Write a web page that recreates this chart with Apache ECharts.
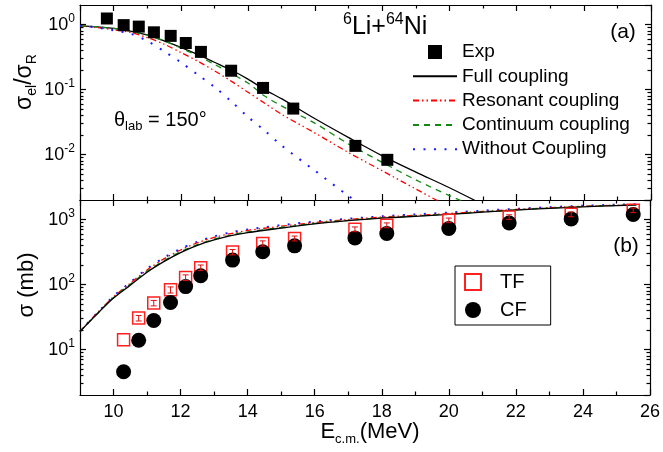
<!DOCTYPE html>
<html lang="en">
<head>
  <meta charset="UTF-8">
  <title>6Li+64Ni</title>
  <script src="https://cdn.jsdelivr.net/npm/echarts@6/dist/echarts.min.js"></script>
  <style>html, body { margin: 0; padding: 0; background: #fff; }</style>
</head>
<body>
  <div id="chart" style="width:663px;height:452px;"></div>
  <script>
    // (a) elastic ratio, experiment
    var expE = [9.8, 10.3, 10.75, 11.2, 11.7, 12.15, 12.6, 13.5, 14.45, 15.35, 17.2, 18.15];
    var expRatio = [1.24, 0.98, 0.93, 0.76, 0.67, 0.52, 0.38, 0.195, 0.106, 0.051, 0.0136, 0.0083];

    // (a) calculations
    var theoE = [9, 9.5, 10, 10.5, 11, 11.5, 12, 12.5, 13, 13.5, 14, 14.5, 15, 16, 17, 18, 19, 20, 21];
    var fullRatio = [0.955, 0.923, 0.871, 0.794, 0.692, 0.562, 0.447, 0.347, 0.263, 0.2, 0.145, 0.1, 0.0724, 0.0355, 0.0182, 0.00955, 0.00537, 0.00309, 0.0017];
    var resRatio = [0.955, 0.902, 0.832, 0.759, 0.631, 0.501, 0.372, 0.275, 0.195, 0.135, 0.0912, 0.0617, 0.0417, 0.0214, 0.0107, 0.00562, 0.00295, 0.00155, null];
    var contRatio = [0.955, 0.923, 0.871, 0.79, 0.69, 0.56, 0.437, 0.331, 0.245, 0.178, 0.126, 0.0794, 0.0562, 0.0302, 0.0145, 0.00759, 0.00407, 0.00234, 0.0014];
    var noneRatio = [0.955, 0.902, 0.813, 0.724, 0.562, 0.389, 0.263, 0.17, 0.11, 0.0661, 0.038, 0.0234, 0.0138, 0.00562, 0.0023, 0.001, null, null, null];

    // (b) fusion, experiment
    var fusE = [10.3, 10.75, 11.2, 11.7, 12.15, 12.6, 13.55, 14.45, 15.4, 17.2, 18.15, 20.0, 21.8, 23.65, 25.5];
    var tfSig = [14.2, 30.5, 52, 83, 128, 182, 316, 430, 513, 710, 818, 975, 1096, 1206, 1390];
    var tfErr = [0, 3, 5, 9, 13, 18, 30, 40, 45, 60, 70, 80, 90, 100, 110];
    var cfSig = [4.55, 13.9, 28, 53, 93, 137, 238, 319, 394, 522, 610, 728, 887, 1024, 1194];

    // (b) calculations
    var sigE = [9, 9.5, 10, 10.5, 11, 11.5, 12, 12.5, 13, 13.5, 14, 15, 16, 17, 18, 19, 20, 21, 22, 23, 24, 25, 25.6];
    var fullSig = [19, 35, 62, 98, 155, 225, 310, 400, 485, 565, 630, 740, 860, 960, 1050, 1120, 1200, 1300, 1400, 1490, 1570, 1640, 1680];
    var resSig = [19, 36, 65, 105, 168, 248, 340, 440, 530, 610, 680, 790, 900, 1000, 1090, 1160, 1240, 1330, 1430, 1520, 1600, 1660, 1700];
    var contSig = [19, 35, 63, 101, 160, 232, 320, 412, 498, 578, 645, 755, 875, 975, 1065, 1135, 1215, 1315, 1415, 1505, 1585, 1650, 1690];
    var noneSig = [19, 36, 66, 108, 175, 258, 355, 455, 550, 635, 705, 820, 930, 1030, 1120, 1200, 1280, 1370, 1460, 1550, 1630, 1690, 1720];

    // minor tick positions
    var minorE = [11, 13, 15, 17, 19, 21, 23, 25];
    var minorRatio = [0.003, 0.004, 0.005, 0.006, 0.007, 0.008, 0.009, 0.02, 0.03, 0.04, 0.05, 0.06, 0.07, 0.08, 0.09,
      0.2, 0.3, 0.4, 0.5, 0.6, 0.7, 0.8, 0.9];
    var minorSig = [3, 4, 5, 6, 7, 8, 9, 20, 30, 40, 50, 60, 70, 80, 90, 200, 300, 400, 500, 600, 700, 800, 900];

    var font = 'Liberation Sans, Arial, sans-serif';

    function pair(xs, ys) {
      return xs.map(function (x, i) { return [x, ys[i]]; });
    }

    function pow10(v) {
      return '10{sup|' + Math.round(Math.log10(v)) + '}';
    }

    function xAx(grid, pos, labels) {
      return {
        type: 'value', gridIndex: grid, position: pos, min: 9, max: 26, splitNumber: 8,
        axisLine: { show: true, onZero: false, lineStyle: { color: '#000', width: 1.2 } },
        axisTick: { show: true, inside: true, length: 6, lineStyle: { color: '#000', width: 1.2 } },
        axisLabel: { show: labels, showMinLabel: false, color: '#000', fontSize: 18, fontFamily: font, margin: 8 },
        splitLine: { show: false }
      };
    }

    function xMinor(grid, pos) {
      return {
        type: 'value', gridIndex: grid, position: pos, min: 9, max: 26,
        axisLine: { show: false, onZero: false },
        axisTick: { show: true, inside: true, length: 3.5, customValues: minorE, lineStyle: { color: '#000', width: 1.2 } },
        axisLabel: { show: false }, splitLine: { show: false }
      };
    }

    function yAx(grid, pos, min, max, labels) {
      return {
        type: 'log', logBase: 10, gridIndex: grid, position: pos, min: min, max: max,
        axisLine: { show: true, onZero: false, lineStyle: { color: '#000', width: 1.2 } },
        axisTick: { show: true, inside: true, length: 6, lineStyle: { color: '#000', width: 1.2 } },
        axisLabel: {
          show: labels, showMinLabel: false, showMaxLabel: false, formatter: pow10,
          color: '#000', fontSize: 18, fontFamily: font, margin: 5, lineHeight: 24,
          rich: { sup: { fontSize: 12, lineHeight: 12, verticalAlign: 'top', color: '#000', fontFamily: font } }
        },
        splitLine: { show: false }
      };
    }

    function yMinor(grid, pos, min, max, vals) {
      return {
        type: 'log', logBase: 10, gridIndex: grid, position: pos, min: min, max: max,
        axisLine: { show: false, onZero: false },
        axisTick: { show: true, inside: true, length: 3.5, customValues: vals, lineStyle: { color: '#000', width: 1.2 } },
        axisLabel: { show: false }, splitLine: { show: false }
      };
    }

    function curve(name, xi, yi, xs, ys, color, type, width) {
      return {
        name: name, type: 'line', xAxisIndex: xi, yAxisIndex: yi, data: pair(xs, ys),
        symbol: 'none', smooth: 0.3, clip: true, connectNulls: false,
        lineStyle: { color: color, width: width, type: type }, itemStyle: { color: color }, z: 2
      };
    }

    function errorBar(params, api) {
      if (api.value(1) === api.value(2)) return null;
      var a = api.coord([api.value(0), api.value(1)]);
      var b = api.coord([api.value(0), api.value(2)]);
      var st = { stroke: '#e01010', lineWidth: 1 };
      return {
        type: 'group',
        children: [
          { type: 'line', shape: { x1: a[0], y1: a[1], x2: b[0], y2: b[1] }, style: st },
          { type: 'line', shape: { x1: a[0] - 3, y1: a[1], x2: a[0] + 3, y2: a[1] }, style: st },
          { type: 'line', shape: { x1: b[0] - 3, y1: b[1], x2: b[0] + 3, y2: b[1] }, style: st }
        ]
      };
    }

    var noMark = { color: 'rgba(0,0,0,0)', borderWidth: 0 };
    var squareIcon = 'path://M0,0H10V10H0Z';

    var chart = echarts.init(document.getElementById('chart'));

    var option = {
      backgroundColor: '#fff',
      animation: false,
      grid: [
        { left: 80, top: 5, width: 571, height: 195 },
        { left: 80, top: 200, width: 571, height: 195 }
      ],
      xAxis: [
        xAx(0, 'bottom', false), xAx(0, 'top', false), xAx(1, 'bottom', true), xAx(1, 'top', false),
        xMinor(0, 'bottom'), xMinor(0, 'top'), xMinor(1, 'bottom'), xMinor(1, 'top')
      ],
      yAxis: [
        yAx(0, 'left', 0.002, 2, true), yAx(0, 'right', 0.002, 2, false),
        yAx(1, 'left', 2, 2000, true), yAx(1, 'right', 2, 2000, false),
        yMinor(0, 'left', 0.002, 2, minorRatio), yMinor(0, 'right', 0.002, 2, minorRatio),
        yMinor(1, 'left', 2, 2000, minorSig), yMinor(1, 'right', 2, 2000, minorSig)
      ],
      legend: [
        {
          left: 407, top: 37, orient: 'vertical', itemWidth: 44, itemHeight: 14, itemGap: 4.3,
          symbolKeepAspect: true,
          data: [
            { name: 'Exp', icon: squareIcon },
            { name: 'Full coupling', itemStyle: noMark },
            { name: 'Resonant coupling', itemStyle: noMark },
            { name: 'Continuum coupling', itemStyle: noMark },
            { name: 'Without Coupling', itemStyle: noMark }
          ],
          textStyle: { color: '#000', fontSize: 19, fontFamily: font, lineHeight: 20 },
          selectedMode: false
        },
        {
          left: 455, top: 266, orient: 'vertical', itemWidth: 44, itemHeight: 16, itemGap: 8,
          padding: [6, 24, 5, 9], borderColor: '#000', borderWidth: 1, symbolKeepAspect: true,
          data: [{ name: 'TF', icon: squareIcon }, { name: 'CF', icon: 'circle' }],
          textStyle: { color: '#000', fontSize: 20, fontFamily: font, lineHeight: 20 },
          selectedMode: false
        }
      ],
      series: [
        curve('Full coupling', 0, 0, theoE, fullRatio, '#000', 'solid', 1.3),
        curve('Resonant coupling', 0, 0, theoE, resRatio, '#ff0000', [6, 3, 1.5, 3, 1.5, 3], 1.3),
        curve('Continuum coupling', 0, 0, theoE, contRatio, '#118811', [6, 5], 1.3),
        curve('Without Coupling', 0, 0, theoE, noneRatio, '#1a1aff', [2, 8.5], 2),
        {
          name: 'Exp', type: 'scatter', xAxisIndex: 0, yAxisIndex: 0, data: pair(expE, expRatio),
          symbol: 'rect', symbolSize: 12, itemStyle: { color: '#000', opacity: 1 }, z: 4
        },
        curve('Without Coupling', 2, 2, sigE, noneSig, '#1a1aff', [2, 8.5], 2),
        curve('Resonant coupling', 2, 2, sigE, resSig, '#ff0000', [6, 3, 1.5, 3, 1.5, 3], 1.3),
        curve('Continuum coupling', 2, 2, sigE, contSig, '#118811', [6, 5], 1.3),
        curve('Full coupling', 2, 2, sigE, fullSig, '#000', 'solid', 1.3),
        {
          name: 'TF', type: 'scatter', xAxisIndex: 2, yAxisIndex: 2, data: pair(fusE, tfSig),
          symbol: 'rect', symbolSize: 12,
          itemStyle: { color: 'rgba(255,255,255,0)', borderColor: '#ff2020', borderWidth: 1.5, opacity: 1 }, z: 4
        },
        {
          name: 'CF', type: 'scatter', xAxisIndex: 2, yAxisIndex: 2, data: pair(fusE, cfSig),
          symbol: 'circle', symbolSize: 15, itemStyle: { color: '#000', opacity: 1 }, z: 5
        },
        {
          name: 'TF error', type: 'custom', xAxisIndex: 2, yAxisIndex: 2, renderItem: errorBar, z: 6,
          data: fusE.map(function (x, i) { return [x, tfSig[i] - tfErr[i], tfSig[i] + tfErr[i]]; })
        }
      ],
      graphic: [
        {
          type: 'text', x: 343, y: 27,
          style: {
            text: '{sup|6}Li+{sup|64}Ni', fontSize: 25, fontFamily: font, fill: '#000', lineHeight: 30,
            align: 'left', verticalAlign: 'middle',
            rich: { sup: { fontSize: 16, lineHeight: 16, verticalAlign: 'top', fontFamily: font, fill: '#000' } }
          }
        },
        {
          type: 'text', x: 623, y: 32,
          style: { text: '(a)', fontSize: 21, fontFamily: font, fill: '#000', align: 'center', verticalAlign: 'middle' }
        },
        {
          type: 'text', x: 626, y: 246,
          style: { text: '(b)', fontSize: 21, fontFamily: font, fill: '#000', align: 'center', verticalAlign: 'middle' }
        },
        {
          type: 'text', x: 114, y: 120,
          style: {
            text: 'θ{sub|lab} = 150°', fontSize: 20, fontFamily: font, fill: '#000', lineHeight: 26,
            align: 'left', verticalAlign: 'middle',
            rich: { sub: { fontSize: 13, lineHeight: 13, verticalAlign: 'bottom', fontFamily: font, fill: '#000' } }
          }
        },
        {
          type: 'text', x: 25, y: 82, rotation: Math.PI / 2,
          style: {
            text: 'σ{sub|el}/σ{sub|R}', fontSize: 23, fontFamily: font, fill: '#000', lineHeight: 28,
            align: 'center', verticalAlign: 'middle',
            rich: { sub: { fontSize: 14, lineHeight: 14, verticalAlign: 'bottom', fontFamily: font, fill: '#000' } }
          }
        },
        {
          type: 'text', x: 27, y: 285, rotation: Math.PI / 2,
          style: { text: 'σ (mb)', fontSize: 22, fontFamily: font, fill: '#000', align: 'center', verticalAlign: 'middle' }
        },
        {
          type: 'text', x: 370, y: 432,
          style: {
            text: 'E{sub|c.m.}(MeV)', fontSize: 22, fontFamily: font, fill: '#000', lineHeight: 28,
            align: 'center', verticalAlign: 'middle',
            rich: { sub: { fontSize: 13, lineHeight: 13, verticalAlign: 'bottom', fontFamily: font, fill: '#000' } }
          }
        }
      ]
    };

    chart.setOption(option);
  </script>
</body>
</html>
